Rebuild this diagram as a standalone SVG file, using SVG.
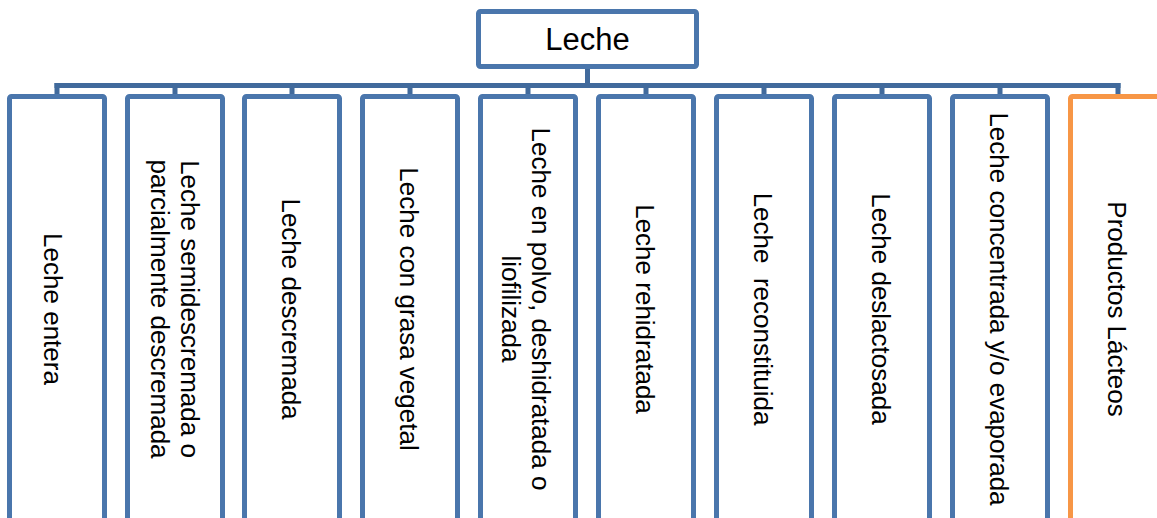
<svg xmlns="http://www.w3.org/2000/svg" width="1157" height="518" viewBox="0 0 1157 518">
<style>
.box{fill:#fff;stroke:#4A76AC;stroke-width:5}
.org{fill:#fff;stroke:#F79646;stroke-width:5}
.con{stroke:#416A9C;stroke-width:5;fill:none;stroke-linecap:butt}
.t{font-family:"Liberation Sans",Arial,sans-serif;font-size:26px;fill:#000;text-anchor:middle;white-space:pre}
.tt{font-family:"Liberation Sans",Arial,sans-serif;font-size:31px;fill:#000;text-anchor:middle}
</style>
<rect width="1157" height="518" fill="#fff"/>
<g id="connectors">
<path class="con" d="M587.5 69V85.5M54.5 85.5H1120.5"/>
<path class="con" d="M57 83V96M175 83V96M292 83V96M410 83V96M528 83V96M646 83V96M764 83V96M882 83V96M1000 83V96M1118 83V96"/>
</g>
<g id="leche"><rect class="box" x="478.5" y="11.5" width="218" height="55" rx="2"/><text class="tt" x="587.5" y="50">Leche</text></g>
<g id="n1"><rect class="box" x="9.5" y="96.5" width="95" height="440" rx="2"/><text class="t" transform="translate(44 309) rotate(90)">Leche entera</text></g>
<g id="n2"><rect class="box" x="127.5" y="96.5" width="95" height="440" rx="2"/><text class="t" transform="translate(181 309) rotate(90)">Leche semidescremada o</text><text class="t" transform="translate(151 309) rotate(90)">parcialmente descremada</text></g>
<g id="n3"><rect class="box" x="244.5" y="96.5" width="95" height="440" rx="2"/><text class="t" transform="translate(282 309) rotate(90)">Leche descremada</text></g>
<g id="n4"><rect class="box" x="362.5" y="96.5" width="95" height="440" rx="2"/><text class="t" transform="translate(400 309) rotate(90)">Leche con grasa vegetal</text></g>
<g id="n5"><rect class="box" x="480.5" y="96.5" width="95" height="440" rx="2"/><text class="t" transform="translate(532 309) rotate(90)">Leche en polvo, deshidratada o</text><text class="t" transform="translate(502 309) rotate(90)">liofilizada</text></g>
<g id="n6"><rect class="box" x="598.5" y="96.5" width="95" height="440" rx="2"/><text class="t" transform="translate(636 309) rotate(90)">Leche rehidratada</text></g>
<g id="n7"><rect class="box" x="716.5" y="96.5" width="95" height="440" rx="2"/><text class="t" transform="translate(754 309) rotate(90)">Leche  reconstituida</text></g>
<g id="n8"><rect class="box" x="834.5" y="96.5" width="95" height="440" rx="2"/><text class="t" transform="translate(872 309) rotate(90)">Leche deslactosada</text></g>
<g id="n9"><rect class="box" x="952.5" y="96.5" width="95" height="440" rx="2"/><text class="t" transform="translate(990 309) rotate(90)">Leche concentrada y/o evaporada</text></g>
<g id="n10"><rect class="org" x="1070.5" y="96.5" width="95" height="440" rx="2"/><text class="t" transform="translate(1108 309) rotate(90)">Productos Lácteos</text></g>
</svg>
